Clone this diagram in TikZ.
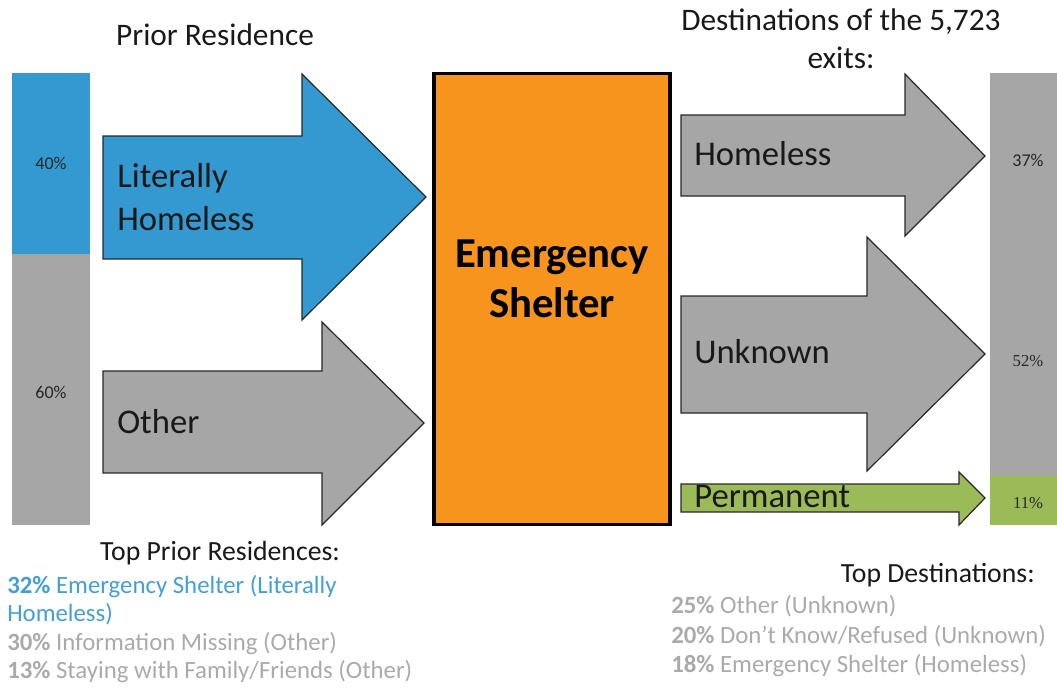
\documentclass[tikz,border=0pt]{standalone}
\usepackage{fontspec}
\setmainfont{Carlito}
\newfontfamily\serifpct{Liberation Serif}
\definecolor{blueC}{RGB}{51,153,208}
\definecolor{orangeC}{RGB}{247,148,30}
\definecolor{grayC}{RGB}{166,166,166}
\definecolor{greenC}{RGB}{155,187,89}
\definecolor{blueT}{RGB}{65,160,218}
\definecolor{grayT}{RGB}{170,170,170}
\definecolor{edgeC}{RGB}{40,40,40}
\tikzset{
  arrowshape/.style={draw=edgeC, line width=0.9pt, line join=miter},
  arrowtext/.style={anchor=base west, inner sep=0pt, font=\fontsize{26}{30}\selectfont, text=black!90},
  pctlabel/.style={font=\fontsize{13.5}{15}\selectfont, text=black!85, inner sep=0pt},
  serifpctlabel/.style={font=\serifpct\fontsize{12.5}{14}\selectfont, text=black!85, inner sep=0pt},
  titletext/.style={anchor=base, inner sep=0pt, font=\fontsize{23.5}{28}\selectfont, text=black!90},
  headtext/.style={inner sep=0pt, font=\fontsize{20.8}{24}\selectfont, text=black!90},
  listtext/.style={anchor=base west, inner sep=0pt, font=\fontsize{18.6}{22}\selectfont},
}
\begin{document}
\begin{tikzpicture}[x=0.75pt,y=-0.75pt]
\useasboundingbox (0,0) rectangle (1057,687);

% left stacked bar
\fill[blueC] (12,73) rectangle (90,254);
\fill[grayC] (12,254) rectangle (90,525);
\node[pctlabel] (p40) at (51,163) {40\%};
\node[pctlabel] (p60) at (51,392) {60\%};

% right stacked bar
\fill[grayC] (990,73) rectangle (1057,476);
\fill[greenC] (990,476) rectangle (1057,525);
\node[pctlabel] (p37) at (1028,160) {37\%};
\node[serifpctlabel] (p52) at (1028,361) {52\%};
\node[serifpctlabel] (p11) at (1028,503) {11\%};

% input arrows
\draw[arrowshape, fill=blueC] (103,136) -- (302,136) -- (302,74) -- (426,197) -- (302,320) -- (302,259) -- (103,259) -- cycle;
\node[arrowtext] (lit1) at (117,187) {Literally};
\node[arrowtext] (lit2) at (117,230) {Homeless};

\draw[arrowshape, fill=grayC] (103,371) -- (322,371) -- (322,322) -- (424,423) -- (322,525) -- (322,473) -- (103,473) -- cycle;
\node[arrowtext] (oth) at (117,433) {Other};

% central box
\node[draw=black, line width=2.4pt, fill=orangeC, inner sep=0pt,
      minimum width=177pt, minimum height=338pt] (es) at (552,299) {};
\node[anchor=base, inner sep=0pt, font=\bfseries\fontsize{32}{36}\selectfont] (es1) at (552,267) {Emergency};
\node[anchor=base, inner sep=0pt, font=\bfseries\fontsize{32}{36}\selectfont] (es2) at (552,317) {Shelter};

% output arrows
\draw[arrowshape, fill=grayC] (681,115) -- (905,115) -- (905,74) -- (985,156) -- (905,236) -- (905,196) -- (681,196) -- cycle;
\node[arrowtext] (hom) at (694,165) {Homeless};

\draw[arrowshape, fill=grayC] (681,296) -- (867,296) -- (867,237) -- (985,354) -- (867,471) -- (867,413) -- (681,413) -- cycle;
\node[arrowtext] (unk) at (694,363) {Unknown};

\draw[arrowshape, fill=greenC] (681,484) -- (959,484) -- (959,472) -- (985,498) -- (959,525) -- (959,512) -- (681,512) -- cycle;
\node[arrowtext] (perm) at (694,507) {Permanent};

% titles
\node[titletext] (t1) at (215,45) {Prior Residence};
\node[titletext] (t2) at (841,30) {Destinations of the 5,723};
\node[titletext] (t3) at (841,68) {exits:};

% bottom left list
\node[headtext, anchor=base] (bl0) at (220,560) {Top Prior Residences:};
\node[listtext, text=blueT] (bl1) at (7,593) {\textbf{32\%} Emergency Shelter (Literally};
\node[listtext, text=blueT] (bl2) at (7,621) {Homeless)};
\node[listtext, text=grayT] (bl3) at (7,650) {\textbf{30\%} Information Missing (Other)};
\node[listtext, text=grayT] (bl4) at (7,678) {\textbf{13\%} Staying with Family/Friends (Other)};

% bottom right list
\node[headtext, anchor=base east] (br0) at (1035,582) {Top Destinations:};
\node[listtext, text=grayT] (br1) at (671,613) {\textbf{25\%} Other (Unknown)};
\node[listtext, text=grayT] (br2) at (671,643) {\textbf{20\%} Don’t Know/Refused (Unknown)};
\node[listtext, text=grayT] (br3) at (671,672) {\textbf{18\%} Emergency Shelter (Homeless)};
\end{tikzpicture}
\end{document}
